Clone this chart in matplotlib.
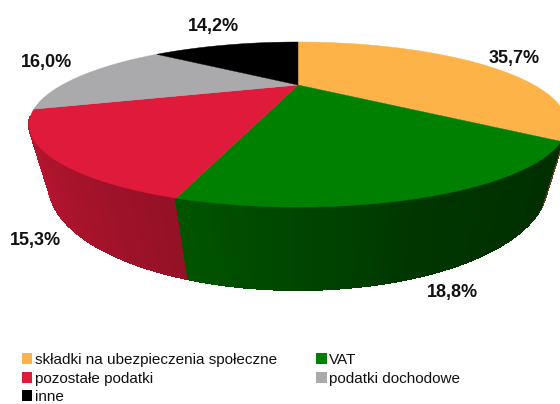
import matplotlib
matplotlib.use("Agg")
import matplotlib.pyplot as plt
from matplotlib.patches import Patch
import numpy as np

labels = ["składki na ubezpieczenia społeczne", "VAT", "pozostałe podatki", "podatki dochodowe", "inne"]
values = [35.7, 18.8, 15.3, 16.0, 14.2]
value_labels = ["35,7%", "18,8%", "15,3%", "16,0%", "14,2%"]
colors = ["#FDB347", "#008000", "#E01A3A", "#AAAAAC", "#000000"]
label_pos = [(514, 59), (452, 292), (35, 240), (46, 63), (213, 26)]


def project(theta, z=0.0):
    # perspective view of the pie, theta clockwise from 12 o'clock, z=1 is the bottom rim
    x = np.sin(theta)
    y = np.cos(theta)
    w = 1 + 0.479 * y + 0.062 * z
    px = 298 + 236 * x / w
    py = 85 + (-63.6 * y + 55.8 * z) / w
    return px, py


def shade(color, theta):
    # side gets darker going to the right
    f = np.interp(np.sin(theta), [-1, -0.28, 0.3, 0.8], [0.86, 0.66, 0.42, 0.36])
    rgb = np.array(matplotlib.colors.to_rgb(color))
    return tuple(rgb * f)


fig = plt.figure(figsize=(5.6, 4.04), dpi=100)
ax = fig.add_axes([0, 0, 1, 1])
ax.set_xlim(0, 560)
ax.set_ylim(404, 0)
ax.axis("off")

edges = np.radians(np.concatenate([[0], np.cumsum(values)]) * 3.6)

# sides first, only the front part shows
strips = []
for i in range(len(values)):
    n = max(int(values[i] * 3), 2)
    ts = np.linspace(edges[i], edges[i + 1], n + 1)
    for t0, t1 in zip(ts[:-1], ts[1:]):
        if np.cos((t0 + t1) / 2) < -0.4:
            strips.append((t0, t1, colors[i]))
strips.sort(key=lambda s: -np.cos((s[0] + s[1]) / 2))
for t0, t1, c in strips:
    tt = np.linspace(t0, t1, 6)
    x0, y0 = project(tt, 0)
    x1, y1 = project(tt, 1)
    ax.fill(np.r_[x0, x1[::-1]], np.r_[y0, y1[::-1]], color=shade(c, (t0 + t1) / 2),
            lw=1, antialiased=False, zorder=1)

# top of the pie
for i in range(len(values)):
    ts = np.linspace(edges[i], edges[i + 1], 120)
    px, py = project(ts, 0)
    ax.fill(np.r_[298, px], np.r_[85, py], color=colors[i], lw=0.3, zorder=2)

for txt, (lx, ly) in zip(value_labels, label_pos):
    ax.text(lx, ly, txt, ha="center", va="center", fontsize=13, fontweight="bold",
            family="Liberation Sans", color="#111111", zorder=3)

# legend fills column by column
order = [0, 2, 4, 1, 3]
handles = [Patch(facecolor=colors[i], edgecolor="none") for i in order]
ax.legend(handles, [labels[i] for i in order], ncol=2, loc="upper left",
          bbox_to_anchor=(22 / 560, 1 - 353 / 404), borderaxespad=0, borderpad=0,
          frameon=False, prop={"family": "Liberation Sans", "size": 11},
          handlelength=0.68, handleheight=0.72, handletextpad=0.14,
          labelspacing=0.3, columnspacing=2.6, labelcolor="#111111")

fig.savefig("out.png", dpi=100)
